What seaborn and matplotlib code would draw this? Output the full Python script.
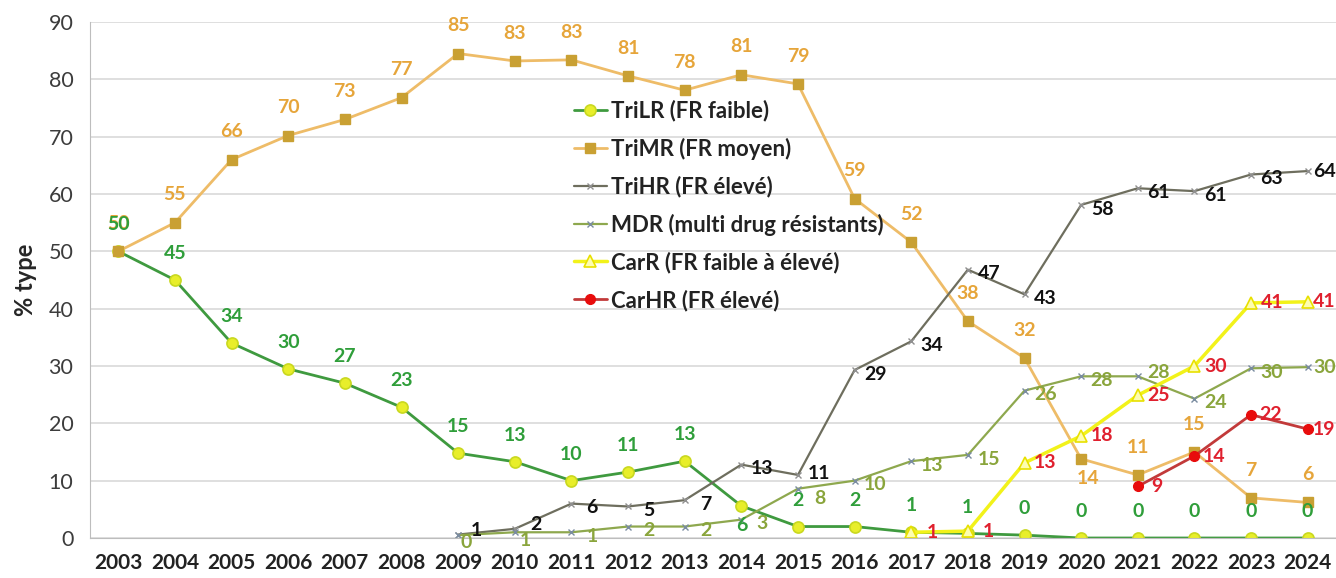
import numpy as np
import pandas as pd
import matplotlib
matplotlib.use("Agg")
import matplotlib.pyplot as plt
import seaborn as sns

years = list(range(2003, 2025))
nan = np.nan

tri_lr = [50, 45, 34, 29.5, 27, 22.8, 14.8, 13.3, 10, 11.5, 13.4, 5.6, 2, 2, 1, 0.8, 0.5, 0, 0, 0, 0, 0]
tri_lr_lab = ["50", "45", "34", "30", "27", "23", "15", "13", "10", "11", "13", "6", "2", "2", "1", "1", "0", "0", "0", "0", "0", "0"]
tri_mr = [50, 55, 66, 70.2, 73, 76.8, 84.5, 83.2, 83.4, 80.6, 78.1, 80.8, 79.2, 59.2, 51.6, 37.8, 31.4, 13.8, 11, 15, 7, 6.2]
tri_mr_lab = ["50", "55", "66", "70", "73", "77", "85", "83", "83", "81", "78", "81", "79", "59", "52", "38", "32", "14", "11", "15", "7", "6"]
tri_hr = [nan] * 6 + [0.6, 1.6, 6, 5.5, 6.6, 12.8, 11, 29.3, 34.3, 46.8, 42.5, 58.1, 61, 60.5, 63.4, 64]
tri_hr_lab = [""] * 6 + ["1", "2", "6", "5", "7", "13", "11", "29", "34", "47", "43", "58", "61", "61", "63", "64"]
mdr = [nan] * 6 + [0.5, 1, 1, 2, 2, 3.2, 8.6, 10, 13.4, 14.5, 25.7, 28.2, 28.2, 24.3, 29.6, 29.8]
mdr_lab = [""] * 6 + ["0", "1", "1", "2", "2", "3", "8", "10", "13", "15", "26", "28", "28", "24", "30", "30"]
car_r = [nan] * 14 + [1, 1.2, 13.1, 17.8, 24.9, 30, 41, 41.2]
car_r_lab = [""] * 14 + ["1", "1", "13", "18", "25", "30", "41", "41"]
car_hr = [nan] * 18 + [9, 14.3, 21.5, 19]
car_hr_lab = [""] * 18 + ["9", "14", "22", "19"]

names = ["TriLR (FR faible)", "TriMR (FR moyen)", "TriHR (FR élevé)",
         "MDR (multi drug résistants)", "CarR (FR faible à élevé)", "CarHR (FR élevé)"]

df = pd.DataFrame({"year": years, names[0]: tri_lr, names[1]: tri_mr, names[2]: tri_hr,
                   names[3]: mdr, names[4]: car_r, names[5]: car_hr})
long = df.melt(id_vars="year", var_name="serie", value_name="pct").dropna()

sns.set_style("white")
plt.rcParams["font.family"] = ["Lato", "DejaVu Sans"]

fig = plt.figure(figsize=(13.36, 5.78), dpi=100)
ax = fig.add_axes([90 / 1336, 40 / 578, 1246 / 1336, 516 / 578])

styles = {
    names[0]: dict(color="#3f9a3f", lw=2, marker="o", ms=8, mfc="#e8ee2a", mec="#c9d820", mew=1.2),
    names[1]: dict(color="#eebc68", lw=2, marker="s", ms=7, mfc="#c9a033", mec="#c9a033", mew=1),
    names[2]: dict(color="#6e6e5e", lw=1.6, marker="x", ms=4, mfc="#808080", mec="#909090", mew=1),
    names[3]: dict(color="#8ea84e", lw=1.6, marker="x", ms=4, mfc="#7a8ca0", mec="#7a8ca0", mew=1),
    names[4]: dict(color="#f2f21a", lw=2.5, marker="^", ms=9, mfc="#fdfdb0", mec="#e8e000", mew=1.2),
    names[5]: dict(color="#c23a3a", lw=2, marker="o", ms=7, mfc="#e80c0c", mec="#e80c0c", mew=1),
}
for name in names:
    sub = long[long["serie"] == name]
    st = styles[name]
    sns.lineplot(data=sub, x="year", y="pct", ax=ax, color=st["color"], linewidth=st["lw"],
                 marker=st["marker"], markersize=st["ms"], markerfacecolor=st["mfc"],
                 markeredgecolor=st["mec"], markeredgewidth=st["mew"], label=name)

# data labels
def put_labels(vals, labs, color, dx, dy, special=None):
    for i, (v, t) in enumerate(zip(vals, labs)):
        if t == "" or np.isnan(v):
            continue
        ox, oy = dx, dy
        if special and years[i] in special:
            ox, oy = special[years[i]]
        ax.annotate(t, (years[i], v), xytext=(ox, oy), textcoords="offset points",
                    ha="center", va="center", color=color, fontsize=14, fontweight="bold")

put_labels(tri_mr, tri_mr_lab, "#e6a53a", 0, 20, {2020: (5, -14)})
put_labels(tri_lr, tri_lr_lab, "#2f9e3a", 0, 19, {2014: (0, -14)})
put_labels(tri_hr, tri_hr_lab, "#111111", 15, -3, {2009: (13, 3), 2010: (15, 3), 2015: (15, 1), 2024: (12, 0)})
put_labels(mdr, mdr_lab, "#8aa53c", 15, -3, {2009: (6, -5), 2010: (8, -6), 2015: (16, -7),
                                              2021: (15, 3), 2024: (12, 0)})
put_labels(car_r, car_r_lab, "#e0202e", 15, 0, {2024: (12, 0)})
put_labels(car_hr, car_hr_lab, "#e0202e", 14, 0, {2024: (12, 0)})

ax.set_xlim(2002.5, 2024.5)
ax.set_ylim(0, 90)
ax.set_yticks(range(0, 91, 10))
ax.set_xticks(years)
ax.set_xticks(np.arange(2002.5, 2025, 1), minor=True)
ax.tick_params(axis="x", which="major", length=0, labelsize=15, pad=11)
ax.tick_params(axis="x", which="minor", length=7, color="#bdbdbd", direction="out")
ax.tick_params(axis="y", length=0, labelsize=15.5, labelcolor="#3c3c3c", pad=12)
for lab in ax.get_xticklabels():
    lab.set_fontweight("bold")
    lab.set_color("#222222")
ax.yaxis.grid(True, color="#d9d9d9", linewidth=1.2)
ax.set_axisbelow(True)
for s in ["top", "right"]:
    ax.spines[s].set_visible(False)
ax.spines["left"].set_color("#bdbdbd")
ax.spines["bottom"].set_color("#bdbdbd")
ax.set_xlabel("")
ax.set_ylabel("% type", fontsize=17, fontweight="bold", labelpad=8)

leg = ax.legend(loc="upper left", bbox_to_anchor=(0.381, 0.866), frameon=False, fontsize=16,
                handlelength=1.5, handletextpad=0.2, labelspacing=0.72, borderaxespad=0)
for t in leg.get_texts():
    t.set_fontweight("bold")
    t.set_color("#222222")

fig.savefig("out.png", dpi=100)
